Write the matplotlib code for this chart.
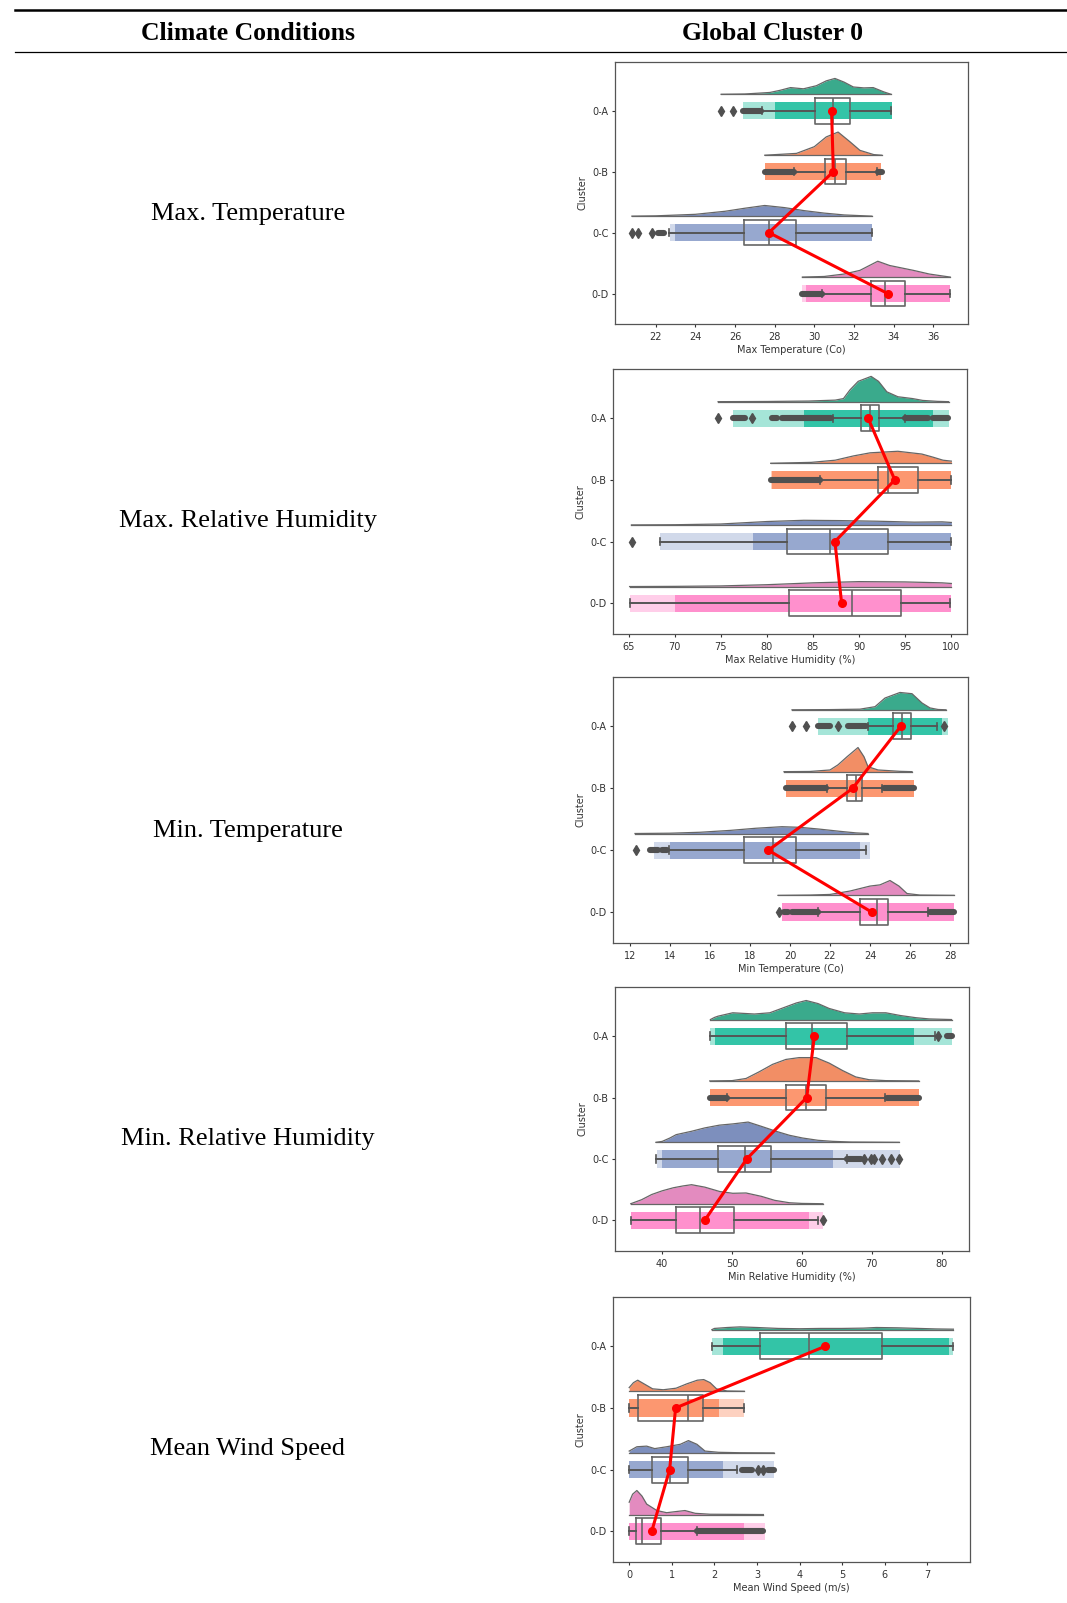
import matplotlib
matplotlib.use('Agg')
import matplotlib.pyplot as plt
from matplotlib.lines import Line2D

W, H = 1067, 1603

clusters = ['0-A', '0-B', '0-C', '0-D']
row_labels = ['Max. Temperature', 'Max. Relative Humidity', 'Min. Temperature',
              'Min. Relative Humidity', 'Mean Wind Speed']
x_labels = ['Max Temperature (Co)', 'Max Relative Humidity (%)', 'Min Temperature (Co)',
            'Min Relative Humidity (%)', 'Mean Wind Speed (m/s)']

# couleurs (points / demi-violons)
point_colors = ['#1fbf9f', '#fc8d62', '#8da0cb', '#ff85c8']
violin_colors = ['#3aaa8c', '#f28e65', '#7d8fbd', '#e38bbf']

# ---- Max temperature ----
tmax_ticks = [22, 24, 26, 28, 30, 32, 34, 36]
tmax_xlim = (19.95, 37.75)
tmax_q1 = [30.03, 30.54, 26.45, 32.86]
tmax_med = [30.96, 31.04, 27.71, 33.56]
tmax_q3 = [31.80, 31.60, 29.06, 34.57]
tmax_wlo = [27.34, 29.00, 22.69, 30.37]
tmax_whi = [33.87, 33.14, 32.89, 36.84]
tmax_mean = [30.87, 30.96, 27.71, 33.70]
tmax_fliers = [[25.3, 25.9], [], [20.8, 21.1, 21.8], []]
tmax_flier_runs = [[(26.4, 27.3)], [(27.5, 29.0), (33.2, 33.4)], [(22.1, 22.4)], [(29.4, 30.4)]]
tmax_strip = [(26.4, 28.0, 33.9, 33.9), (27.5, 27.5, 33.35, 33.35),
              (22.7, 23.0, 32.9, 32.9), (29.4, 29.6, 36.85, 36.85)]
tmax_violin = [
    [(25.3, 0), (26.5, 0.005), (27.76, 0.03), (28.27, 0.065), (28.8, 0.11), (29.45, 0.09),
     (30.1, 0.14), (30.6, 0.22), (31.04, 0.26), (31.5, 0.2), (31.97, 0.12), (32.5, 0.105),
     (32.97, 0.11), (33.5, 0.04), (33.87, 0)],
    [(27.5, 0), (29.1, 0.03), (30.0, 0.14), (30.6, 0.3), (31.2, 0.38), (31.8, 0.22),
     (32.3, 0.08), (33.0, 0.01), (33.4, 0)],
    [(20.8, 0), (22, 0.005), (24, 0.03), (25.5, 0.08), (26.5, 0.13), (27.5, 0.175),
     (28.5, 0.14), (29.5, 0.09), (30.5, 0.05), (31.5, 0.02), (32.9, 0)],
    [(29.4, 0), (30.5, 0.01), (31.5, 0.05), (32.3, 0.11), (33.2, 0.26), (33.8, 0.19),
     (35.0, 0.11), (35.8, 0.05), (36.85, 0)],
]

# ---- Max relative humidity ----
rhmax_ticks = [65, 70, 75, 80, 85, 90, 95, 100]
rhmax_xlim = (63.3, 101.7)
rhmax_q1 = [90.15, 92.07, 82.14, 82.39]
rhmax_med = [91.16, 93.15, 86.83, 89.18]
rhmax_q3 = [92.17, 96.40, 93.15, 94.49]
rhmax_wlo = [87.2, 85.75, 68.36, 65.1]
rhmax_whi = [94.95, 100.0, 100.0, 99.82]
rhmax_mean = [90.98, 93.87, 87.37, 88.10]
rhmax_fliers = [[74.7, 78.35], [], [65.35], []]
rhmax_flier_runs = [[(76.3, 77.6), (80.5, 81.1), (81.6, 87.0), (95.0, 97.5), (98.0, 99.6)],
                    [(80.4, 85.7)], [], []]
rhmax_strip = [(76.3, 84.0, 98.0, 99.8), (80.4, 80.5, 100, 100),
               (68.4, 78.5, 100, 100), (65.1, 70.0, 100, 100)]
rhmax_violin = [
    [(74.7, 0), (80, 0.003), (84.5, 0.01), (87.4, 0.025), (88.3, 0.05), (89.0, 0.19),
     (89.9, 0.33), (91.3, 0.41), (92.1, 0.33), (93.0, 0.16), (94.2, 0.08), (95.8, 0.05),
     (96.9, 0.02), (98.5, 0.005), (99.7, 0)],
    [(80.4, 0), (84.8, 0.015), (87.4, 0.05), (89.4, 0.12), (91.2, 0.17), (94.2, 0.195),
     (96.8, 0.15), (98.0, 0.1), (99.1, 0.05), (100, 0.035)],
    [(65.3, 0), (70, 0.003), (75, 0.015), (80, 0.055), (84, 0.075), (88, 0.07), (92, 0.06),
     (96, 0.045), (99, 0.05), (100, 0.04)],
    [(65.1, 0), (70, 0.003), (75, 0.01), (80, 0.03), (85, 0.06), (90, 0.08), (95, 0.075),
     (99, 0.06), (100, 0.05)],
]

# ---- Min temperature ----
tmin_ticks = [12, 14, 16, 18, 20, 22, 24, 26, 28]
tmin_xlim = (11.15, 28.9)
tmin_q1 = [25.13, 22.87, 17.70, 23.50]
tmin_med = [25.58, 23.28, 19.13, 24.33]
tmin_q3 = [26.03, 23.62, 20.28, 24.88]
tmin_wlo = [23.88, 21.83, 13.95, 21.42]
tmin_whi = [27.33, 24.58, 23.80, 26.92]
tmin_mean = [25.53, 23.13, 18.92, 24.08]
tmin_fliers = [[20.1, 20.8, 22.4, 27.7], [], [12.3], [19.45]]
tmin_flier_runs = [[(21.4, 22.0), (22.9, 23.8)], [(19.8, 21.8), (24.7, 26.2)],
                   [(13.0, 13.4), (13.6, 13.85)], [(19.7, 19.9), (20.1, 21.4), (27.0, 28.2)]]
tmin_strip = [(21.4, 23.9, 27.6, 27.9), (19.8, 19.8, 26.2, 26.2),
              (13.2, 14.0, 23.5, 24.0), (19.6, 19.6, 28.2, 28.2)]
tmin_violin = [
    [(20.1, 0), (22, 0.003), (23.5, 0.01), (24.25, 0.05), (24.75, 0.19), (25.5, 0.28),
     (26.1, 0.26), (26.6, 0.11), (27.0, 0.03), (27.4, 0.005), (27.8, 0)],
    [(19.7, 0), (21, 0.003), (22, 0.027), (22.4, 0.11), (22.85, 0.24), (23.4, 0.39),
     (23.7, 0.24), (23.9, 0.08), (24.4, 0.027), (25.5, 0.005), (26.1, 0)],
    [(12.25, 0), (14, 0.005), (15.5, 0.02), (17, 0.05), (18.3, 0.085), (19.6, 0.11),
     (20.5, 0.1), (21.5, 0.07), (22.5, 0.035), (23.3, 0.01), (23.9, 0)],
    [(19.4, 0), (21, 0.005), (22, 0.015), (23, 0.07), (24, 0.15), (24.5, 0.17), (25.0, 0.24),
     (25.45, 0.15), (25.85, 0.03), (26.5, 0.005), (28.2, 0)],
]

# ---- Min relative humidity ----
rhmin_ticks = [40, 50, 60, 70, 80]
rhmin_xlim = (33.25, 83.9)
rhmin_q1 = [57.74, 57.74, 47.99, 42.04]
rhmin_med = [61.40, 60.60, 51.80, 45.47]
rhmin_q3 = [66.39, 63.44, 55.60, 50.27]
rhmin_wlo = [46.8, 49.3, 39.1, 35.53]
rhmin_whi = [79.1, 71.86, 66.44, 62.25]
rhmin_mean = [61.78, 60.68, 52.10, 46.09]
rhmin_fliers = [[79.4], [], [68.9, 69.9, 70.3, 71.5, 72.7, 73.9], [63.0]]
rhmin_flier_runs = [[(80.8, 81.5)], [(46.8, 49.3), (72.2, 76.8)], [(66.5, 68.5)], []]
rhmin_strip = [(46.8, 47.5, 76.0, 81.5), (46.8, 46.8, 76.8, 76.8),
               (39.2, 40.0, 64.5, 74.0), (35.6, 35.6, 61.0, 63.0)]
rhmin_violin = [
    [(46.9, 0), (47.5, 0.035), (48, 0.055), (50.1, 0.11), (53.2, 0.09), (55.4, 0.11),
     (57.3, 0.19), (59.2, 0.27), (60.6, 0.31), (62.3, 0.26), (63.9, 0.18), (66.1, 0.11),
     (68.2, 0.09), (70.1, 0.11), (72.0, 0.11), (74.1, 0.065), (76.3, 0.03), (78.2, 0.01),
     (81.4, 0)],
    [(46.8, 0), (50, 0.005), (52, 0.04), (53.9, 0.15), (55.8, 0.27), (57.7, 0.35),
     (59.6, 0.38), (62.0, 0.38), (63.9, 0.29), (65.8, 0.17), (67.7, 0.065), (69.6, 0.02),
     (72, 0.005), (76.7, 0)],
    [(39.1, 0), (40, 0.015), (41.1, 0.07), (42, 0.125), (44.2, 0.18), (46.1, 0.235),
     (48.2, 0.28), (50.1, 0.3), (52.3, 0.33), (54.2, 0.26), (56.3, 0.18), (58.2, 0.115),
     (60.1, 0.07), (62.3, 0.033), (64.4, 0.016), (67, 0.005), (73.9, 0)],
    [(35.5, 0), (37.05, 0.065), (38.5, 0.15), (40, 0.21), (41.6, 0.26), (43, 0.29),
     (44.2, 0.31), (46.1, 0.27), (48.2, 0.2), (50.1, 0.17), (52, 0.175), (54.2, 0.12),
     (56.1, 0.055), (58.2, 0.016), (60, 0.005), (63, 0)],
]

# ---- Mean wind speed ----
wind_ticks = [0, 1, 2, 3, 4, 5, 6, 7]
wind_xlim = (-0.38, 8.0)
wind_q1 = [3.07, 0.20, 0.53, 0.16]
wind_med = [4.23, 1.37, 0.96, 0.30]
wind_q3 = [5.93, 1.73, 1.38, 0.74]
wind_wlo = [1.94, 0.0, 0.0, 0.0]
wind_whi = [7.61, 2.70, 2.53, 1.59]
wind_mean = [4.60, 1.09, 0.95, 0.53]
wind_fliers = [[], [], [3.03, 3.15], []]
wind_flier_runs = [[], [], [(2.64, 2.88), (3.27, 3.4)], [(1.6, 3.15)]]
wind_strip = [(1.94, 2.2, 7.5, 7.61), (0, 0, 2.1, 2.7), (0, 0, 2.2, 3.4), (0, 0, 2.7, 3.19)]
wind_violin = [
    [(1.94, 0), (2.0, 0.02), (2.3, 0.035), (2.6, 0.045), (3.0, 0.035), (3.5, 0.02),
     (4.0, 0.015), (4.5, 0.02), (5.0, 0.02), (5.5, 0.025), (5.8, 0.035), (6.3, 0.03),
     (6.8, 0.02), (7.2, 0.012), (7.61, 0.008)],
    [(0, 0.06), (0.1, 0.14), (0.2, 0.18), (0.35, 0.12), (0.55, 0.04), (0.8, 0.025),
     (1.1, 0.05), (1.35, 0.12), (1.6, 0.18), (1.75, 0.19), (1.9, 0.14), (2.05, 0.04),
     (2.3, 0.005), (2.7, 0)],
    [(0, 0.03), (0.18, 0.1), (0.41, 0.11), (0.6, 0.07), (0.88, 0.1), (1.2, 0.14), (1.39, 0.2),
     (1.59, 0.14), (1.78, 0.03), (2.1, 0.01), (2.6, 0.003), (3.4, 0)],
    [(0, 0.2), (0.08, 0.33), (0.18, 0.39), (0.3, 0.3), (0.41, 0.17), (0.65, 0.065),
     (0.88, 0.03), (1.12, 0.05), (1.31, 0.065), (1.55, 0.02), (1.9, 0.005), (3.15, 0)],
]

# positions des axes en pixels (gauche, droite, haut, bas) et des libellés de ligne
axes_px = [(615, 968, 62, 324), (613, 967, 369, 634), (613, 968, 677, 943),
           (615, 969, 987, 1251), (613, 970, 1297, 1562)]
label_y_px = [214, 521, 831, 1139, 1449]

panels = [
    dict(ticks=tmax_ticks, xlim=tmax_xlim, q1=tmax_q1, med=tmax_med, q3=tmax_q3, wlo=tmax_wlo,
         whi=tmax_whi, mean=tmax_mean, fliers=tmax_fliers, runs=tmax_flier_runs,
         strip=tmax_strip, violin=tmax_violin),
    dict(ticks=rhmax_ticks, xlim=rhmax_xlim, q1=rhmax_q1, med=rhmax_med, q3=rhmax_q3,
         wlo=rhmax_wlo, whi=rhmax_whi, mean=rhmax_mean, fliers=rhmax_fliers,
         runs=rhmax_flier_runs, strip=rhmax_strip, violin=rhmax_violin),
    dict(ticks=tmin_ticks, xlim=tmin_xlim, q1=tmin_q1, med=tmin_med, q3=tmin_q3, wlo=tmin_wlo,
         whi=tmin_whi, mean=tmin_mean, fliers=tmin_fliers, runs=tmin_flier_runs,
         strip=tmin_strip, violin=tmin_violin),
    dict(ticks=rhmin_ticks, xlim=rhmin_xlim, q1=rhmin_q1, med=rhmin_med, q3=rhmin_q3,
         wlo=rhmin_wlo, whi=rhmin_whi, mean=rhmin_mean, fliers=rhmin_fliers,
         runs=rhmin_flier_runs, strip=rhmin_strip, violin=rhmin_violin),
    dict(ticks=wind_ticks, xlim=wind_xlim, q1=wind_q1, med=wind_med, q3=wind_q3, wlo=wind_wlo,
         whi=wind_whi, mean=wind_mean, fliers=wind_fliers, runs=wind_flier_runs,
         strip=wind_strip, violin=wind_violin),
]

VIOLIN_OFFSET = 0.27
STRIP_H = 0.28
BOX_W = 0.42
FLIER_C = '#505050'
EDGE_C = '#666666'


def draw_raincloud(ax, p, xlabel):
    for i in range(len(clusters)):
        # demi-violon au-dessus
        base = i - VIOLIN_OFFSET
        xs = [v[0] for v in p['violin'][i]]
        hs = [base - v[1] for v in p['violin'][i]]
        ax.fill_between(xs, base, hs, color=violin_colors[i], lw=0, zorder=1)
        ax.plot(xs, hs, color=EDGE_C, lw=0.9, zorder=1.5)
        ax.plot([xs[0], xs[-1]], [base, base], color=EDGE_C, lw=0.9, zorder=1.5)
        # nuage de points (bande)
        lo, dlo, dhi, hi = p['strip'][i]
        ax.barh(i, hi - lo, left=lo, height=STRIP_H, color=point_colors[i], alpha=0.4,
                lw=0, zorder=2)
        ax.barh(i, dhi - dlo, left=dlo, height=STRIP_H, color=point_colors[i], alpha=0.85,
                lw=0, zorder=2)
        # outliers en séries denses
        for a, b in p['runs'][i]:
            ax.plot([a, b], [i, i], color=FLIER_C, lw=4.4, solid_capstyle='round', zorder=4)

    stats = [dict(med=p['med'][i], q1=p['q1'][i], q3=p['q3'][i], whislo=p['wlo'][i],
                  whishi=p['whi'][i], fliers=p['fliers'][i]) for i in range(len(clusters))]
    ax.bxp(stats, positions=range(len(clusters)), widths=BOX_W, orientation='horizontal',
           manage_ticks=False, capwidths=0.12,
           boxprops=dict(color=EDGE_C, lw=1.2, zorder=3),
           medianprops=dict(color=EDGE_C, lw=1.2, zorder=3),
           whiskerprops=dict(color='#555555', lw=1.4, zorder=3),
           capprops=dict(color='#555555', lw=1.2, zorder=3),
           flierprops=dict(marker='d', markerfacecolor=FLIER_C, markeredgecolor=FLIER_C,
                           markersize=5, zorder=4))

    # moyennes
    ax.plot(p['mean'], range(len(clusters)), color='red', lw=2.2, marker='o', ms=5.5,
            zorder=6)

    ax.set_xlim(p['xlim'])
    ax.set_ylim(3.5, -0.8)
    ax.set_xticks(p['ticks'])
    ax.set_yticks(range(len(clusters)))
    ax.set_yticklabels(clusters)
    ax.set_xlabel(xlabel, fontsize=7, color='#333333', labelpad=2.5)
    ax.set_ylabel('Cluster', fontsize=7, color='#333333', labelpad=3)
    ax.tick_params(labelsize=7, colors='#333333', length=2.5, width=0.8, pad=2)
    ax.tick_params(axis='x', pad=3)
    for s in ax.spines.values():
        s.set_color('#555555')
        s.set_linewidth(0.9)


fig = plt.figure(figsize=(W / 100, H / 100), dpi=100)
fig.patch.set_facecolor('white')

# lignes du tableau
fig.add_artist(Line2D([15 / W, 1], [1 - 10 / H, 1 - 10 / H], transform=fig.transFigure,
                      color='black', lw=1.8))
fig.add_artist(Line2D([15 / W, 1], [1 - 52 / H, 1 - 52 / H], transform=fig.transFigure,
                      color='black', lw=0.9))

serif = ['Liberation Serif', 'DejaVu Serif']
fig.text(248 / W, 1 - 34 / H, 'Climate Conditions', ha='center', va='center',
         fontsize=18.5, fontweight='bold', family=serif)
fig.text(772 / W, 1 - 34 / H, 'Global Cluster 0', ha='center', va='center',
         fontsize=18.5, fontweight='bold', family=serif)

for k, p in enumerate(panels):
    l, r, t, b = axes_px[k]
    ax = fig.add_axes([l / W, 1 - b / H, (r - l) / W, (b - t) / H])
    draw_raincloud(ax, p, x_labels[k])
    fig.text(248 / W, 1 - label_y_px[k] / H, row_labels[k], ha='center', va='center',
             fontsize=19, family=serif)

fig.savefig('out.png', dpi=100)
